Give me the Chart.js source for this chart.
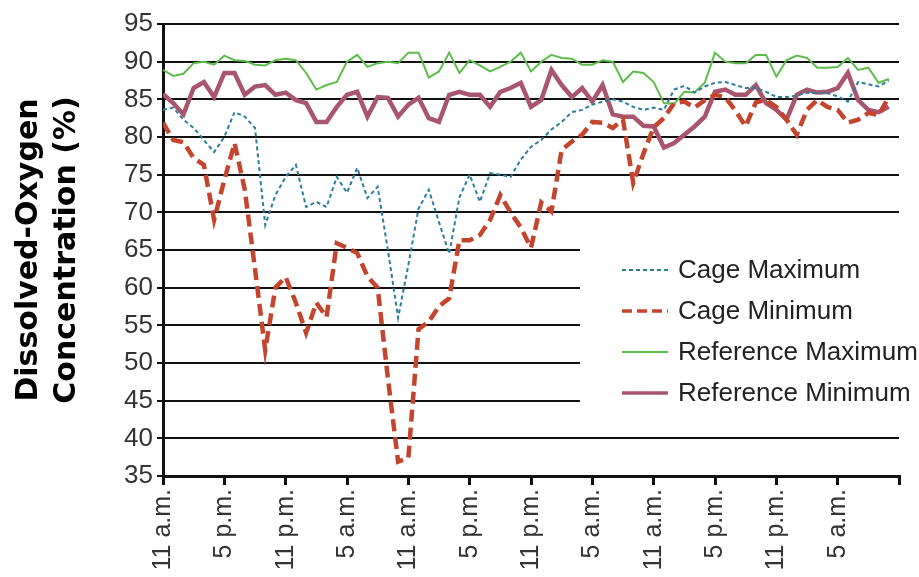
<!DOCTYPE html>
<html>
<head>
<meta charset="utf-8">
<script src="https://cdn.jsdelivr.net/npm/chart.js@4.4.1/dist/chart.umd.min.js"></script>
<style>
  html, body { margin: 0; padding: 0; background: #fff; }
  #wrap { width: 919px; height: 577px; position: relative; }
</style>
</head>
<body>
<div id="wrap"><canvas id="doChart"></canvas></div>
<script>
// Hourly readings over three days, starting 11 a.m.
const tickLabels = ["11 a.m.", "5 p.m.", "11 p.m.", "5 a.m.", "11 a.m.", "5 p.m.", "11 p.m.", "5 a.m.", "11 a.m.", "5 p.m.", "11 p.m.", "5 a.m.", ""];
const seriesNames = ["Cage Maximum", "Cage Minimum", "Reference Maximum", "Reference Minimum"];

const cageMax = [83.6, 83.9, 82.3, 81.2, 79.6, 78, 80, 83.3, 82.7, 81.2,
  68.3, 72.3, 74.7, 76.3, 70.7, 71.4, 70.7, 74.7, 72.6, 75.9,
  71.9, 73.4, 65, 56, 63, 70.5, 73, 68.7, 64.5, 72,
  75, 71.4, 75.2, 75, 74.7, 77, 78.7, 79.6, 81, 82,
  83.3, 83.6, 84.3, 84.7, 85, 84.7, 84, 83.6, 83.9, 83.6,
  86.3, 86.8, 85.9, 86.7, 87.2, 87.3, 86.9, 86.5, 86.5, 86,
  85.3, 85.3, 85.5, 85.9, 85.8, 85.8, 85.4, 84.7, 87.3, 87,
  86.7, 87.5];

const cageMin = [81.9, 79.6, 79.3, 77.2, 76.3, 69, 74.3, 79.2, 73, 62.5,
  51.7, 60, 61.4, 58, 54, 58, 56.1, 65.9, 65.3, 64.6,
  61.5, 60, 48, 36.9, 37.4, 54.5, 55.5, 57.5, 58.6, 66.3,
  66.3, 67, 69, 72.3, 70, 68, 65.3, 71.3, 70.1, 78.3,
  79.4, 80.3, 82, 81.9, 81.2, 82.3, 73.9, 77.8, 81.3, 82.5,
  84.5, 84.7, 83.9, 84.9, 85.6, 85.3, 83.5, 81.4, 84.6, 84.9,
  84, 82.3, 80.3, 83.6, 84.9, 84, 83.6, 81.9, 82.3, 83.2,
  82.9, 85.3];

const refMax = [88.9, 88.1, 88.4, 89.8, 90, 89.6, 90.8, 90.2, 90.1, 89.6,
  89.5, 90.2, 90.4, 90.2, 88.5, 86.3, 86.9, 87.3, 90, 90.9,
  89.3, 89.8, 90, 89.8, 91.2, 91.2, 87.9, 88.7, 91.2, 88.5,
  90.2, 89.5, 88.7, 89.3, 90, 91.2, 88.7, 90, 90.9, 90.5,
  90.4, 89.6, 89.6, 90.2, 90, 87.3, 88.7, 88.5, 87.3, 84.5,
  84.4, 86, 85.9, 87.2, 91.2, 90, 89.8, 89.8, 90.9, 90.9,
  88, 90.2, 90.8, 90.5, 89.2, 89.2, 89.3, 90.5, 88.9, 89.2,
  87.2, 87.7];

const refMin = [85.7, 84.5, 83, 86.5, 87.3, 85.3, 88.5, 88.5, 85.6, 86.7,
  86.9, 85.6, 85.9, 84.9, 84.5, 82, 82, 84, 85.6, 86,
  82.7, 85.3, 85.2, 82.7, 84.3, 85.2, 82.5, 82, 85.6, 86,
  85.6, 85.6, 84, 86, 86.5, 87.2, 84, 84.9, 88.9, 86.9,
  85.3, 86.5, 84.7, 86.9, 83, 82.7, 82.7, 81.5, 81.4, 78.6,
  79.2, 80.3, 81.4, 82.7, 86, 86.3, 85.6, 85.6, 86.9, 84.5,
  83.6, 82.3, 85.6, 86.3, 85.9, 86, 86.5, 88.5, 84.9, 83.6,
  83.3, 84];

const toPoints = arr => arr.map((v, i) => ({ x: i, y: v }));

// legend drawn inside the plot, on a white box
const insetLegend = {
  id: "insetLegend",
  beforeDatasetsDraw(chart, args, o) {
    const { ctx } = chart;
    ctx.save();
    ctx.fillStyle = "#fff";
    ctx.fillRect(o.x, o.y, o.w, o.h);
    ctx.restore();
  },
  afterDraw(chart, args, o) {
    const { ctx } = chart;
    ctx.save();
    chart.data.datasets.forEach((ds, i) => {
      const y = o.y + o.first + i * o.gap;
      ctx.beginPath();
      ctx.strokeStyle = ds.borderColor;
      ctx.lineWidth = o.sampleWidth[i];
      ctx.setLineDash(o.sampleDash[i]);
      ctx.moveTo(o.lineX, y);
      ctx.lineTo(o.lineX + o.lineLen, y);
      ctx.stroke();
      ctx.setLineDash([]);
      ctx.fillStyle = "#222";
      ctx.font = "26px 'Liberation Sans', Arial, sans-serif";
      ctx.textBaseline = "middle";
      ctx.fillText(ds.label, o.textX, y + 1);
    });
    ctx.restore();
  }
};

const ctx = document.getElementById("doChart").getContext("2d");

new Chart(ctx, {
  type: "line",
  data: {
    datasets: [
      {
        label: seriesNames[0],
        data: toPoints(cageMax),
        borderColor: "#2b7d9c",
        borderWidth: 2,
        borderDash: [4, 3]
      },
      {
        label: seriesNames[1],
        data: toPoints(cageMin),
        borderColor: "#c4452d",
        borderWidth: 4.5,
        borderDash: [12, 6]
      },
      {
        label: seriesNames[2],
        data: toPoints(refMax),
        borderColor: "#5dbd4b",
        borderWidth: 2
      },
      {
        label: seriesNames[3],
        data: toPoints(refMin),
        borderColor: "#a8566f",
        borderWidth: 4.5
      }
    ]
  },
  options: {
    responsive: true,
    maintainAspectRatio: false,
    animation: false,
    layout: { padding: { top: 24, right: 20, left: 0, bottom: 0 } },
    elements: { point: { radius: 0 }, line: { tension: 0 } },
    plugins: {
      legend: { display: false },
      tooltip: { enabled: false },
      insetLegend: {
        x: 580, y: 241, w: 339, h: 178,
        first: 29, gap: 41,
        lineX: 622, lineLen: 46, textX: 678,
        sampleWidth: [2, 3.5, 2, 3.5],
        sampleDash: [[4, 3], [10, 5], [], []]
      }
    },
    scales: {
      x: {
        type: "linear",
        min: 0,
        max: 72,
        afterFit: scale => {
          scale.height = 101;
          scale.paddingLeft = 0;
          scale.paddingRight = 0;
        },
        ticks: {
          stepSize: 6,
          autoSkip: false,
          maxRotation: 90,
          minRotation: 90,
          padding: 4,
          color: "#333",
          font: { family: "'Liberation Sans', Arial, sans-serif", size: 25 },
          callback: (value) => tickLabels[value / 6]
        },
        grid: { drawOnChartArea: false, drawTicks: true, tickLength: 9, color: "#111", lineWidth: 3 },
        border: { color: "#111", width: 3 }
      },
      y: {
        min: 35,
        max: 95,
        afterFit: scale => {
          scale.width = 163;
          scale.paddingTop = 0;
          scale.paddingBottom = 0;
        },
        ticks: {
          stepSize: 5,
          padding: 4,
          color: "#333",
          font: { family: "'Liberation Sans', Arial, sans-serif", size: 26 }
        },
        grid: { color: "#111", lineWidth: 2, tickLength: 6 },
        border: { color: "#111", width: 3 },
        title: {
          display: true,
          text: ["Dissolved-Oxygen", "Concentration (%)"],
          color: "#000",
          font: { family: "'DejaVu Sans', sans-serif", weight: "bold", size: 30, lineHeight: 1.27 },
          padding: { top: 10, bottom: 0 }
        }
      }
    }
  },
  plugins: [insetLegend]
});
</script>
</body>
</html>
